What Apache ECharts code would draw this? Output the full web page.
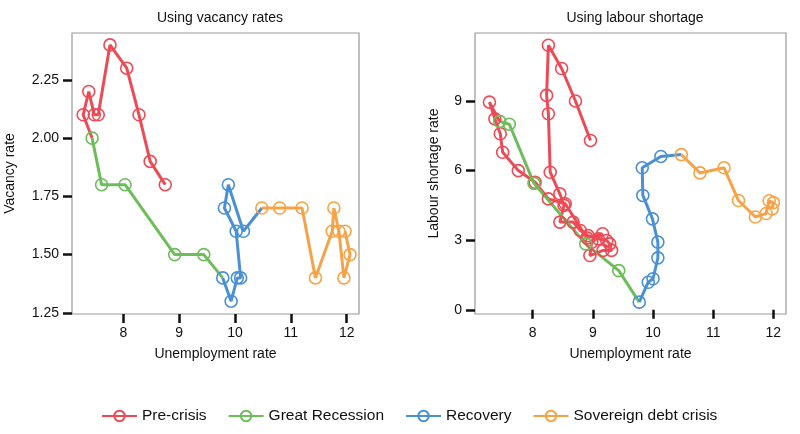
<!DOCTYPE html>
<html><head><meta charset="utf-8">
<script src="https://cdn.jsdelivr.net/npm/echarts@6/dist/echarts.min.js"></script>
<style>html,body{margin:0;padding:0;background:#fff}#c{width:800px;height:434px}</style>
</head><body><div id="c"></div>
<script>
// ---- data ----
const periods = ['Pre-crisis', 'Great Recession', 'Recovery', 'Sovereign debt crisis'];
const colors = ['#EC4B56', '#6DBE5A', '#4A90D4', '#F5A347'];

// Left panel: [unemployment, vacancy rate]
const vacPre = [[8.75,1.8],[8.48,1.9],[8.28,2.1],[8.06,2.3],[7.76,2.4],[7.55,2.1],[7.48,2.1],[7.38,2.2],[7.28,2.1]];
const vacGR = [[7.44,2.0],[7.61,1.8],[8.03,1.8],[8.92,1.5],[9.44,1.5]];
const vacRec = [[9.78,1.4],[9.93,1.3],[10.04,1.4],[10.10,1.4],[10.02,1.6],[9.81,1.7],[9.88,1.8],[10.15,1.6]];
const vacSov = [[10.48,1.7],[10.80,1.7],[11.20,1.7],[11.44,1.4],[11.74,1.6],[11.77,1.7],[11.86,1.6],[11.95,1.4],[12.06,1.5],[11.97,1.6]];

// Right panel: [unemployment, labour shortage rate]
const labPre = [[8.96,7.3],[8.71,9.0],[8.48,10.4],[8.26,11.4],[8.23,9.24],[8.26,8.45],[8.29,5.93],[8.45,5.0],[8.52,4.5],[8.45,3.78],[8.67,3.78],[8.79,3.42],[8.92,3.2],[9.09,3.06],[9.23,2.99],[9.28,2.84],[9.31,2.56],[9.17,2.56],[8.95,2.34],[8.98,2.91],[9.16,3.28],[8.9,3.1],[8.54,4.57],[8.26,4.78],[8.04,5.5],[7.76,6.0],[7.5,6.79],[7.46,7.59],[7.37,8.23],[7.28,8.95]];
const labGR = [[7.45,8.12],[7.61,8.0],[8.02,5.45],[8.88,2.84],[9.43,1.69]];
const labRec = [[9.77,0.33],[9.92,1.19],[10.0,1.34],[10.08,2.24],[10.08,2.92],[9.99,3.92],[9.83,4.93],[9.82,6.12],[10.13,6.61]];
const labSov = [[10.47,6.69],[10.78,5.90],[11.18,6.12],[11.42,4.71],[11.70,4.0],[11.88,4.15],[11.93,4.7],[12.0,4.62],[11.98,4.35]];

const xTicks = [8, 9, 10, 11, 12];
const vacTicks = [1.25, 1.5, 1.75, 2.0, 2.25];
const labTicks = [0, 3, 6, 9];

// ---- chart ----
const FONT = 'Liberation Sans';
const vacSets = [vacPre, vacGR, vacRec, vacSov];
const labSets = [labPre, labGR, labRec, labSov];

function build(sets, i) {
  const d = sets[i].map(p => ({value: p}));
  if (i + 1 < sets.length) d.push({value: sets[i + 1][0], symbolSize: 0});
  return d;
}

const series = [];
[vacSets, labSets].forEach((sets, g) => {
  sets.forEach((s, i) => {
    series.push({
      name: periods[i], type: 'line', xAxisIndex: g, yAxisIndex: g,
      data: build(sets, i),
      symbol: 'circle', symbolSize: 12,
      lineStyle: {color: colors[i], width: 3},
      itemStyle: {color: 'rgba(255,255,255,0)', borderColor: colors[i], borderWidth: 1.6},
      emphasis: {disabled: true},
      animation: false
    });
  });
});

function xAxis(grid, min, max) {
  return {
    type: 'value', gridIndex: grid, min: min, max: max,
    name: 'Unemployment rate', nameLocation: 'middle', nameGap: 33,
    nameTextStyle: {fontFamily: FONT, fontSize: 14, color: '#111'},
    axisLine: {show: false},
    splitLine: {show: false},
    axisTick: {show: true, length: 9, lineStyle: {color: '#111', width: 2.5}, customValues: xTicks},
    axisLabel: {fontFamily: FONT, fontSize: 14, color: '#111', margin: 12, customValues: xTicks}
  };
}
function yAxis(grid, min, max, ticks, name, gap, fmt) {
  return {
    type: 'value', gridIndex: grid, min: min, max: max,
    name: name, nameLocation: 'middle', nameGap: gap, nameRotate: 90,
    nameTextStyle: {fontFamily: FONT, fontSize: 14, color: '#111'},
    axisLine: {show: false},
    splitLine: {show: false},
    axisTick: {show: true, length: 9, lineStyle: {color: '#111', width: 2.5}, customValues: ticks},
    axisLabel: {fontFamily: FONT, fontSize: 14, color: '#111', margin: 13, customValues: ticks, formatter: fmt}
  };
}

const chart = echarts.init(document.getElementById('c'), null, {renderer: 'canvas'});
chart.setOption({
  backgroundColor: '#fff',
  animation: false,
  title: [
    {text: 'Using vacancy rates', left: 215, top: 6, textAlign: 'center',
     textStyle: {fontFamily: FONT, fontSize: 14, fontWeight: 'normal', color: '#111'}},
    {text: 'Using labour shortage', left: 630, top: 6, textAlign: 'center',
     textStyle: {fontFamily: FONT, fontSize: 14, fontWeight: 'normal', color: '#111'}}
  ],
  grid: [
    {left: 72, width: 287, top: 33, height: 281, show: true, borderColor: '#999', borderWidth: 1.2, backgroundColor: 'transparent'},
    {left: 475, width: 311, top: 33, height: 281, show: true, borderColor: '#999', borderWidth: 1.2, backgroundColor: 'transparent'}
  ],
  xAxis: [xAxis(0, 7.08, 12.22), xAxis(1, 7.04, 12.21)],
  yAxis: [
    yAxis(0, 1.245, 2.451, vacTicks, 'Vacancy rate', 55, v => v.toFixed(2)),
    yAxis(1, -0.18, 11.93, labTicks, 'Labour shortage rate', 34, v => String(v))
  ],
  legend: {
    data: periods, top: 403, left: 96,
    itemWidth: 35, itemHeight: 13, itemGap: 21,
    textStyle: {fontFamily: FONT, fontSize: 15.5, color: '#111'}
  },
  series: series
});
</script></body></html>
